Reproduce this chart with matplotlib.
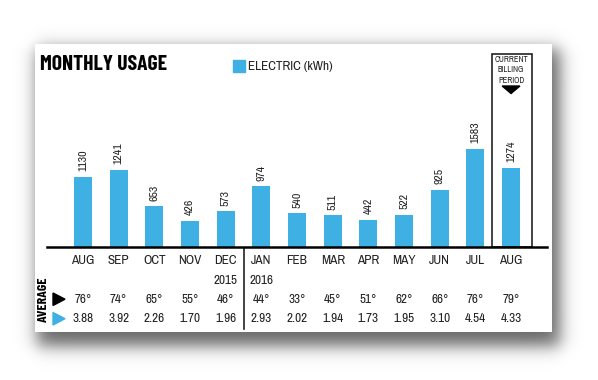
import numpy as np
import matplotlib
matplotlib.use("Agg")
import matplotlib.pyplot as plt
import matplotlib.transforms as mtransforms
from matplotlib.patches import Rectangle, Polygon

months = ["AUG", "SEP", "OCT", "NOV", "DEC", "JAN", "FEB", "MAR", "APR", "MAY", "JUN", "JUL", "AUG"]
usage = [1130, 1241, 653, 426, 573, 974, 540, 511, 442, 522, 925, 1583, 1274]
temps = ["76°", "74°", "65°", "55°", "46°", "44°", "33°", "45°", "51°", "62°", "66°", "76°", "79°"]
daily = ["3.88", "3.92", "2.26", "1.70", "1.96", "2.93", "2.02", "1.94", "1.73", "1.95", "3.10", "4.54", "4.33"]
years = {4: "2015", 5: "2016"}

BLUE = "#3FB0E3"
INK = "#222222"
FONT = ["Archivo Narrow", "Barlow Condensed", "DejaVu Sans"]
BOLD = ["Barlow Condensed", "DejaVu Sans"]
W, H = 598, 380

plt.rcParams["font.family"] = FONT

fig = plt.figure(figsize=(W / 100, H / 100), dpi=100)
fig.patch.set_facecolor("white")


def fx(x):
    return x / W


def fy(y):
    return 1 - y / H


# soft drop shadow behind the card
card = (35, 44, 552, 332)
px = np.arange(W) + 0.5
py = np.arange(H) + 0.5
s = 10.0
sx = 0.5 * (np.tanh((px - (card[0] + 2)) / s) - np.tanh((px - (card[2] + 8)) / s))
sy = 0.5 * (np.tanh((py - (card[1] + 5)) / s) - np.tanh((py - (card[3] + 14)) / s))
shadow = np.zeros((H, W, 4))
shadow[..., 3] = 0.6 * np.outer(sy, sx)
fig.figimage(shadow, 0, 0, origin="upper", zorder=0.5)
fig.patches.append(Rectangle((fx(card[0]), fy(card[3])),
                             (card[2] - card[0]) / W, (card[3] - card[1]) / H,
                             transform=fig.transFigure, facecolor="white",
                             edgecolor="none", zorder=1))

# bar axes: centre 0 -> 83px, step 35.67px, baseline at 247px
step = 35.67
left, right = 47, 546.7
top, base = 54, 247
ax = fig.add_axes([fx(left), fy(base), (right - left) / W, (base - top) / H])
ax.set_zorder(2)
ax.patch.set_alpha(0)
x = np.arange(len(months))
ax.set_xlim((left - 83) / step, (right - 83) / step)
ax.set_ylim(0, 1583 * (base - top) / 98.4)
ax.bar(x, usage, width=0.5, color=BLUE)
for xi, v in zip(x, usage):
    ax.annotate(str(v), (xi, v), xytext=(0, 4), textcoords="offset points",
                rotation=90, ha="center", va="bottom", fontsize=8.5, color=INK)
for sp in ["top", "right", "left"]:
    ax.spines[sp].set_visible(False)
ax.spines["bottom"].set_linewidth(1.8)
ax.set_xticks([])
ax.set_yticks([])

tf = mtransforms.blended_transform_factory(ax.transData, fig.transFigure)

# current billing period box
blend = mtransforms.blended_transform_factory(ax.transData, ax.transAxes)
bx0 = (491.5 - 83) / step
bx1 = (532 - 83) / step
ax.add_patch(Rectangle((bx0, 0), bx1 - bx0, 1, transform=blend, fill=False,
                       edgecolor=INK, linewidth=1.2, clip_on=False))
ax.text(12, fy(70), "CURRENT\nBILLING\nPERIOD", transform=tf,
        ha="center", va="center", fontsize=6, linespacing=1.2, color=INK)
ax.add_patch(Polygon([(11.75, fy(86)), (12.25, fy(86)), (12, fy(93.5))],
                     closed=True, color="black", transform=tf, clip_on=False))

# table below the axis
for xi in x:
    ax.text(xi, fy(261), months[xi], transform=tf, ha="center", va="center",
            fontsize=9.5, color=INK)
    ax.text(xi, fy(299.5), temps[xi], transform=tf, ha="center", va="center",
            fontsize=9.5, color=INK)
    ax.text(xi, fy(318.5), daily[xi], transform=tf, ha="center", va="center",
            fontsize=9.5, color=INK)
for xi, yr in years.items():
    ax.text(xi, fy(280), yr, transform=tf, ha="center", va="center",
            fontsize=9.5, color=INK)
ax.plot([4.51, 4.51], [fy(248), fy(329)], transform=tf, color=INK,
        linewidth=1.2, clip_on=False)

# row markers
fig.text(fx(43), fy(299), "AVERAGE", rotation=90, ha="center", va="center",
         fontsize=10, fontweight="bold", family=BOLD, color="black", zorder=3)
fig.patches.append(Polygon([(fx(53), fy(293)), (fx(53), fy(305.5)), (fx(65), fy(299.2))],
                           closed=True, transform=fig.transFigure, color="black", zorder=3))
fig.patches.append(Polygon([(fx(53), fy(312.5)), (fx(53), fy(325)), (fx(65), fy(318.7))],
                           closed=True, transform=fig.transFigure, color=BLUE, zorder=3))

# title + legend
fig.text(fx(39.5), fy(65), "MONTHLY USAGE", ha="left", va="center", fontsize=15.5,
         fontweight="bold", family=BOLD, color="black", zorder=3)
fig.patches.append(Rectangle((fx(233), fy(72)), 12 / W, 12 / H, transform=fig.transFigure,
                             color=BLUE, zorder=3))
fig.text(fx(248), fy(66.5), "ELECTRIC (kWh)", ha="left", va="center", fontsize=9.5,
         color=INK, zorder=3)

fig.savefig("out.png", dpi=100)
